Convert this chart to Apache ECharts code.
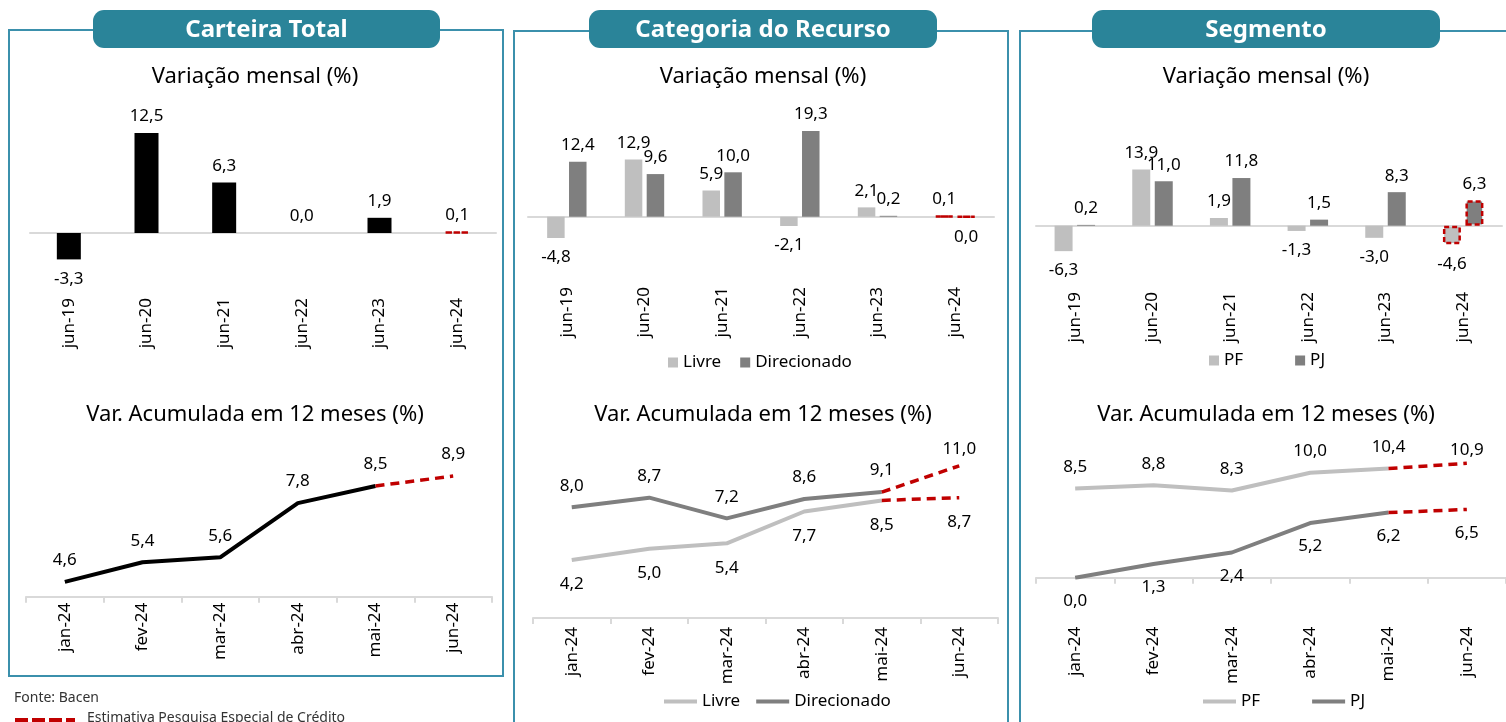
<!DOCTYPE html>
<html><head><meta charset="utf-8">
<script src="https://cdn.jsdelivr.net/npm/echarts@6/dist/echarts.min.js"></script>
<style>html,body{margin:0;padding:0;background:#fff;overflow:hidden}#c{width:1506px;height:722px}</style>
</head><body><div id="c"></div>
<script>
// ---------- DATA ----------
const barCats = ['jun-19', 'jun-20', 'jun-21', 'jun-22', 'jun-23', 'jun-24'];
const lineCats = ['jan-24', 'fev-24', 'mar-24', 'abr-24', 'mai-24', 'jun-24'];
const totalMensal = [-3.3, 12.5, 6.3, 0.0, 1.9, 0.1];
const totalAcum = [4.6, 5.4, 5.6, 7.8, 8.5, 8.9];
const livreMensal = [-4.8, 12.9, 5.9, -2.1, 2.1, 0.1];
const direcMensal = [12.4, 9.6, 10.0, 19.3, 0.2, -0.04];
const livreAcum = [4.2, 5.0, 5.4, 7.7, 8.5, 8.7];
const direcAcum = [8.0, 8.7, 7.2, 8.6, 9.1, 11.0];
const pfMensal = [-6.3, 13.9, 1.9, -1.3, -3.0, -4.6];
const pjMensal = [0.2, 11.0, 11.8, 1.5, 8.3, 6.3];
const pfAcum = [8.5, 8.8, 8.3, 10.0, 10.4, 10.9];
const pjAcum = [0.0, 1.3, 2.4, 5.2, 6.2, 6.5];
const panelTitles = ['Carteira Total', 'Categoria do Recurso', 'Segmento'];
const chartTitles = ['Variação mensal (%)', 'Var. Acumulada em 12 meses (%)'];

// ---------- STYLE ----------
const FONT = '"Noto Sans", "Open Sans", sans-serif';
const TEAL = '#2a8499';
const BORDER = '#3b90ac';
const RED = '#c00000';
const LIGHT = '#bfbfbf';
const DARK = '#7f7f7f';
const AXIS = '#d9d9d9';

function fmt(v) {
  const n = (typeof v === 'object' && v !== null) ? v.value : v;
  const s = Math.abs(n) < 0.05 ? '0.0' : n.toFixed(1);
  return s.replace('.', ',');
}

function barItems(vals) {
  return vals.map((v, i) => {
    const it = { value: v, label: { position: v < 0 ? 'bottom' : 'top', distance: v < 0 ? 11 : 8 } };
    if (i === vals.length - 1) {
      it.itemStyle = { borderColor: RED, borderType: [5, 3], borderWidth: 2.5 };
    }
    return it;
  });
}

// grids: 0 P1 bar, 1 P1 line, 2 P2 bar, 3 P2 line, 4 P3 bar, 5 P3 line
const grids = [
  { left: 30, width: 466, top: 113, height: 160 },
  { left: 26, width: 466, top: 449, height: 147.7 },
  { left: 528, width: 466, top: 105.7, height: 155.4 },
  { left: 533, width: 465, top: 452, height: 166 },
  { left: 1036, width: 466, top: 124.7, height: 141.4 },
  { left: 1036, width: 471, top: 451.7, height: 126 }
];
const yRanges = [[-5, 15], [4, 10], [-10, 25], [0, 12], [-10, 25], [0, 12]];
const labelMargins = [25, 6, 26, 9, 26, 49];

const xAxes = grids.map((g, i) => {
  const isBar = i % 2 === 0;
  return {
    type: 'category', gridIndex: i, data: isBar ? barCats : lineCats,
    axisLine: { show: !isBar, onZero: false, lineStyle: { color: AXIS, width: 2 } },
    axisTick: { show: !isBar, length: 6, lineStyle: { color: AXIS, width: 2 } },
    axisLabel: { rotate: 90, margin: labelMargins[i], fontSize: 17, color: '#000', fontFamily: FONT, interval: 0 },
    splitLine: { show: false }
  };
});
// zero lines for the bar grids (axis line drawn at value 0, below the bars)
[0, 2, 4].forEach(gi => {
  xAxes.push({
    type: 'category', gridIndex: gi, data: barCats,
    axisLine: { show: true, onZero: true, lineStyle: { color: AXIS, width: 2 } },
    axisTick: { show: false }, axisLabel: { show: false }, splitLine: { show: false }
  });
});
const yAxes = grids.map((g, i) => ({
  type: 'value', gridIndex: i, min: yRanges[i][0], max: yRanges[i][1], show: false, splitLine: { show: false }
}));

function barSeries(name, vals, color, gi, barWidth) {
  return {
    type: 'bar', name: name, xAxisIndex: gi, yAxisIndex: gi,
    data: barItems(vals), barWidth: barWidth, barGap: '25%', z: 5,
    itemStyle: { color: color },
    label: { show: true, formatter: p => fmt(p.value), fontSize: 17, color: '#000', fontFamily: FONT },
    emphasis: { disabled: true }
  };
}

function lineSeries(name, vals, color, gi, pos, dist, estDist) {
  const n = vals.length;
  const main = vals.map((v, i) => i < n - 1 ? v : '-');
  const est = vals.map((v, i) => i < n - 2 ? '-' : (i === n - 2 ? { value: v, label: { show: false } } : v));
  const lab = d => ({ show: true, position: pos, distance: d, formatter: p => fmt(p.value), fontSize: 17, color: '#000', fontFamily: FONT });
  return [
    { type: 'line', name: name, xAxisIndex: gi, yAxisIndex: gi, data: main,
      symbol: 'circle', symbolSize: 0.1, itemStyle: { color: color },
      lineStyle: { color: color, width: 4 }, label: lab(dist), z: 3, emphasis: { disabled: true } },
    { type: 'line', name: name + ' (estimativa)', xAxisIndex: gi, yAxisIndex: gi, data: est,
      symbol: 'circle', symbolSize: 0.1, itemStyle: { color: RED },
      lineStyle: { color: RED, width: 3.5, type: [9, 6] }, label: lab(estDist), z: 4, emphasis: { disabled: true } }
  ];
}

const series = [
  barSeries('Total', totalMensal, '#000', 0, 24),
  ...lineSeries('Total', totalAcum, '#000', 1, 'top', 13, 13),
  barSeries('Livre', livreMensal, LIGHT, 2, 17.5),
  barSeries('Direcionado', direcMensal, DARK, 2, 17.5),
  ...lineSeries('Livre', livreAcum, LIGHT, 3, 'bottom', 16, 16),
  ...lineSeries('Direcionado', direcAcum, DARK, 3, 'top', 13, 8),
  barSeries('PF', pfMensal, LIGHT, 4, 18),
  barSeries('PJ', pjMensal, DARK, 4, 18),
  ...lineSeries('PF', pfAcum, LIGHT, 5, 'top', 13, 5),
  ...lineSeries('PJ', pjAcum, DARK, 5, 'bottom', 15, 15)
];

const legTxt = { fontSize: 17, color: '#000', fontFamily: FONT };
const legends = [
  { data: ['Livre', 'Direcionado'], left: 663, top: 349, icon: 'rect', itemWidth: 10, itemHeight: 10, itemGap: 19, textStyle: legTxt, selectedMode: false },
  { data: ['Livre', 'Direcionado'], left: 659, top: 688, icon: 'rect', itemWidth: 33, itemHeight: 4, itemGap: 16, textStyle: legTxt, selectedMode: false },
  { data: ['PF', 'PJ'], left: 1204, top: 347, icon: 'rect', itemWidth: 10, itemHeight: 10, itemGap: 52, textStyle: legTxt, selectedMode: false },
  { data: ['PF', 'PJ'], left: 1198, top: 688, icon: 'rect', itemWidth: 33, itemHeight: 4, itemGap: 52, textStyle: legTxt, selectedMode: false }
];

// ---------- GRAPHIC (frames, headers, titles, footer) ----------
const panels = [
  { x: 9, y: 30, w: 494, h: 646, hx: 93, hw: 347 },
  { x: 514, y: 31, w: 494, h: 720, hx: 589, hw: 348 },
  { x: 1020, y: 31, w: 520, h: 720, hx: 1092, hw: 348 }
];
const graphic = [];
panels.forEach((p, i) => {
  graphic.push({ type: 'rect', silent: true, z: 1, shape: { x: p.x, y: p.y, width: p.w, height: p.h },
    style: { fill: 'none', stroke: BORDER, lineWidth: 2 } });
  graphic.push({ type: 'rect', silent: true, z: 2, shape: { x: p.hx, y: 10, width: p.hw, height: 38, r: 11 },
    style: { fill: TEAL } });
  graphic.push({ type: 'text', silent: true, z: 3, x: p.hx + p.hw / 2, y: 30,
    style: { text: panelTitles[i], fill: '#fff', font: 'bold 24px ' + FONT, textAlign: 'center', textVerticalAlign: 'middle', verticalAlign: 'middle' } });
  const cx = [255, 763, 1266][i];
  graphic.push({ type: 'text', silent: true, z: 3, x: cx, y: 77,
    style: { text: chartTitles[0], fill: '#000', font: '22px ' + FONT, textAlign: 'center', textVerticalAlign: 'middle', verticalAlign: 'middle' } });
  graphic.push({ type: 'text', silent: true, z: 3, x: cx, y: 415,
    style: { text: chartTitles[1], fill: '#000', font: '22px ' + FONT, textAlign: 'center', textVerticalAlign: 'middle', verticalAlign: 'middle' } });
});
graphic.push({ type: 'text', silent: true, x: 14, y: 698,
  style: { text: 'Fonte: Bacen', fill: '#333', font: '14px ' + FONT, textAlign: 'left', textVerticalAlign: 'middle', verticalAlign: 'middle' } });
graphic.push({ type: 'line', silent: true, shape: { x1: 15, y1: 720, x2: 75, y2: 720 },
  style: { stroke: RED, lineWidth: 4, lineDash: [13, 4] } });
graphic.push({ type: 'text', silent: true, x: 87, y: 711,
  style: { text: 'Estimativa Pesquisa Especial de Crédito', fill: '#333', font: '14px ' + FONT, textAlign: 'left', textVerticalAlign: 'top', verticalAlign: 'top' } });

const chart = echarts.init(document.getElementById('c'), null, { renderer: 'canvas' });
chart.setOption({
  animation: false,
  backgroundColor: '#fff',
  textStyle: { fontFamily: FONT },
  grid: grids,
  xAxis: xAxes,
  yAxis: yAxes,
  legend: legends,
  series: series,
  graphic: graphic
});
</script>
</body></html>
